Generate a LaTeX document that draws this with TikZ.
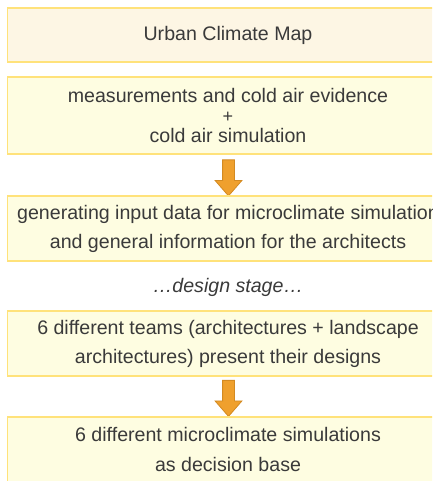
\documentclass[tikz,border=0pt]{standalone}
\usepackage{fontspec}
\setmainfont{Liberation Sans}
\usetikzlibrary{shapes.arrows}

\definecolor{boxline}{HTML}{FFE27A}
\definecolor{mapfill}{HTML}{FDF6E4}
\definecolor{stagefill}{HTML}{FEFDE1}
\definecolor{arrowfill}{HTML}{EFA02D}
\definecolor{arrowline}{HTML}{D38A22}
\definecolor{textgray}{HTML}{3A3A3A}

\begin{document}
\begin{tikzpicture}[
  x=1pt, y=1pt,
  stagebox/.style={draw=boxline,line width=1.5pt,fill=stagefill,text=textgray,minimum width=441pt,align=center,inner sep=0pt,font=\fontsize{19.6}{29}\selectfont},
  mapbox/.style={stagebox,fill=mapfill},
  downarrow/.style={single arrow,draw=arrowline,fill=arrowfill,line width=0.8pt,shape border rotate=270,minimum height=36pt,inner sep=5.5pt,single arrow head extend=7.5pt,single arrow tip angle=82}
]
  \clip (0,0) rectangle (432,481);
  \node[mapbox,minimum height=54pt] (ucm) at (228,446) {Urban Climate Map};
  \node[stagebox,minimum height=77pt,font=\fontsize{19.6}{20}\selectfont] (meas) at (228,365.5)
    {measurements and cold air evidence\\{\fontsize{18}{20}\selectfont +}\\cold air simulation};
  \node[downarrow] (arr1) at (228.5,306.5) {};
  \node[stagebox,minimum height=65pt] (input) at (228,252.5)
    {generating input data for microclimate simulation\\and general information for the architects};
  \node[text=textgray,font=\itshape\fontsize{19.6}{24}\selectfont] (design) at (228,194) {…design stage…};
  \node[stagebox,minimum height=65pt] (teams) at (228,137.5)
    {6 different teams (architectures + landscape\\architectures) present their designs};
  \node[downarrow] (arr2) at (228.5,86) {};
  \node[stagebox,minimum height=65pt,font=\fontsize{19.6}{30}\selectfont] (sims) at (228,31.5)
    {6 different microclimate simulations\\as decision base};
\end{tikzpicture}
\end{document}
